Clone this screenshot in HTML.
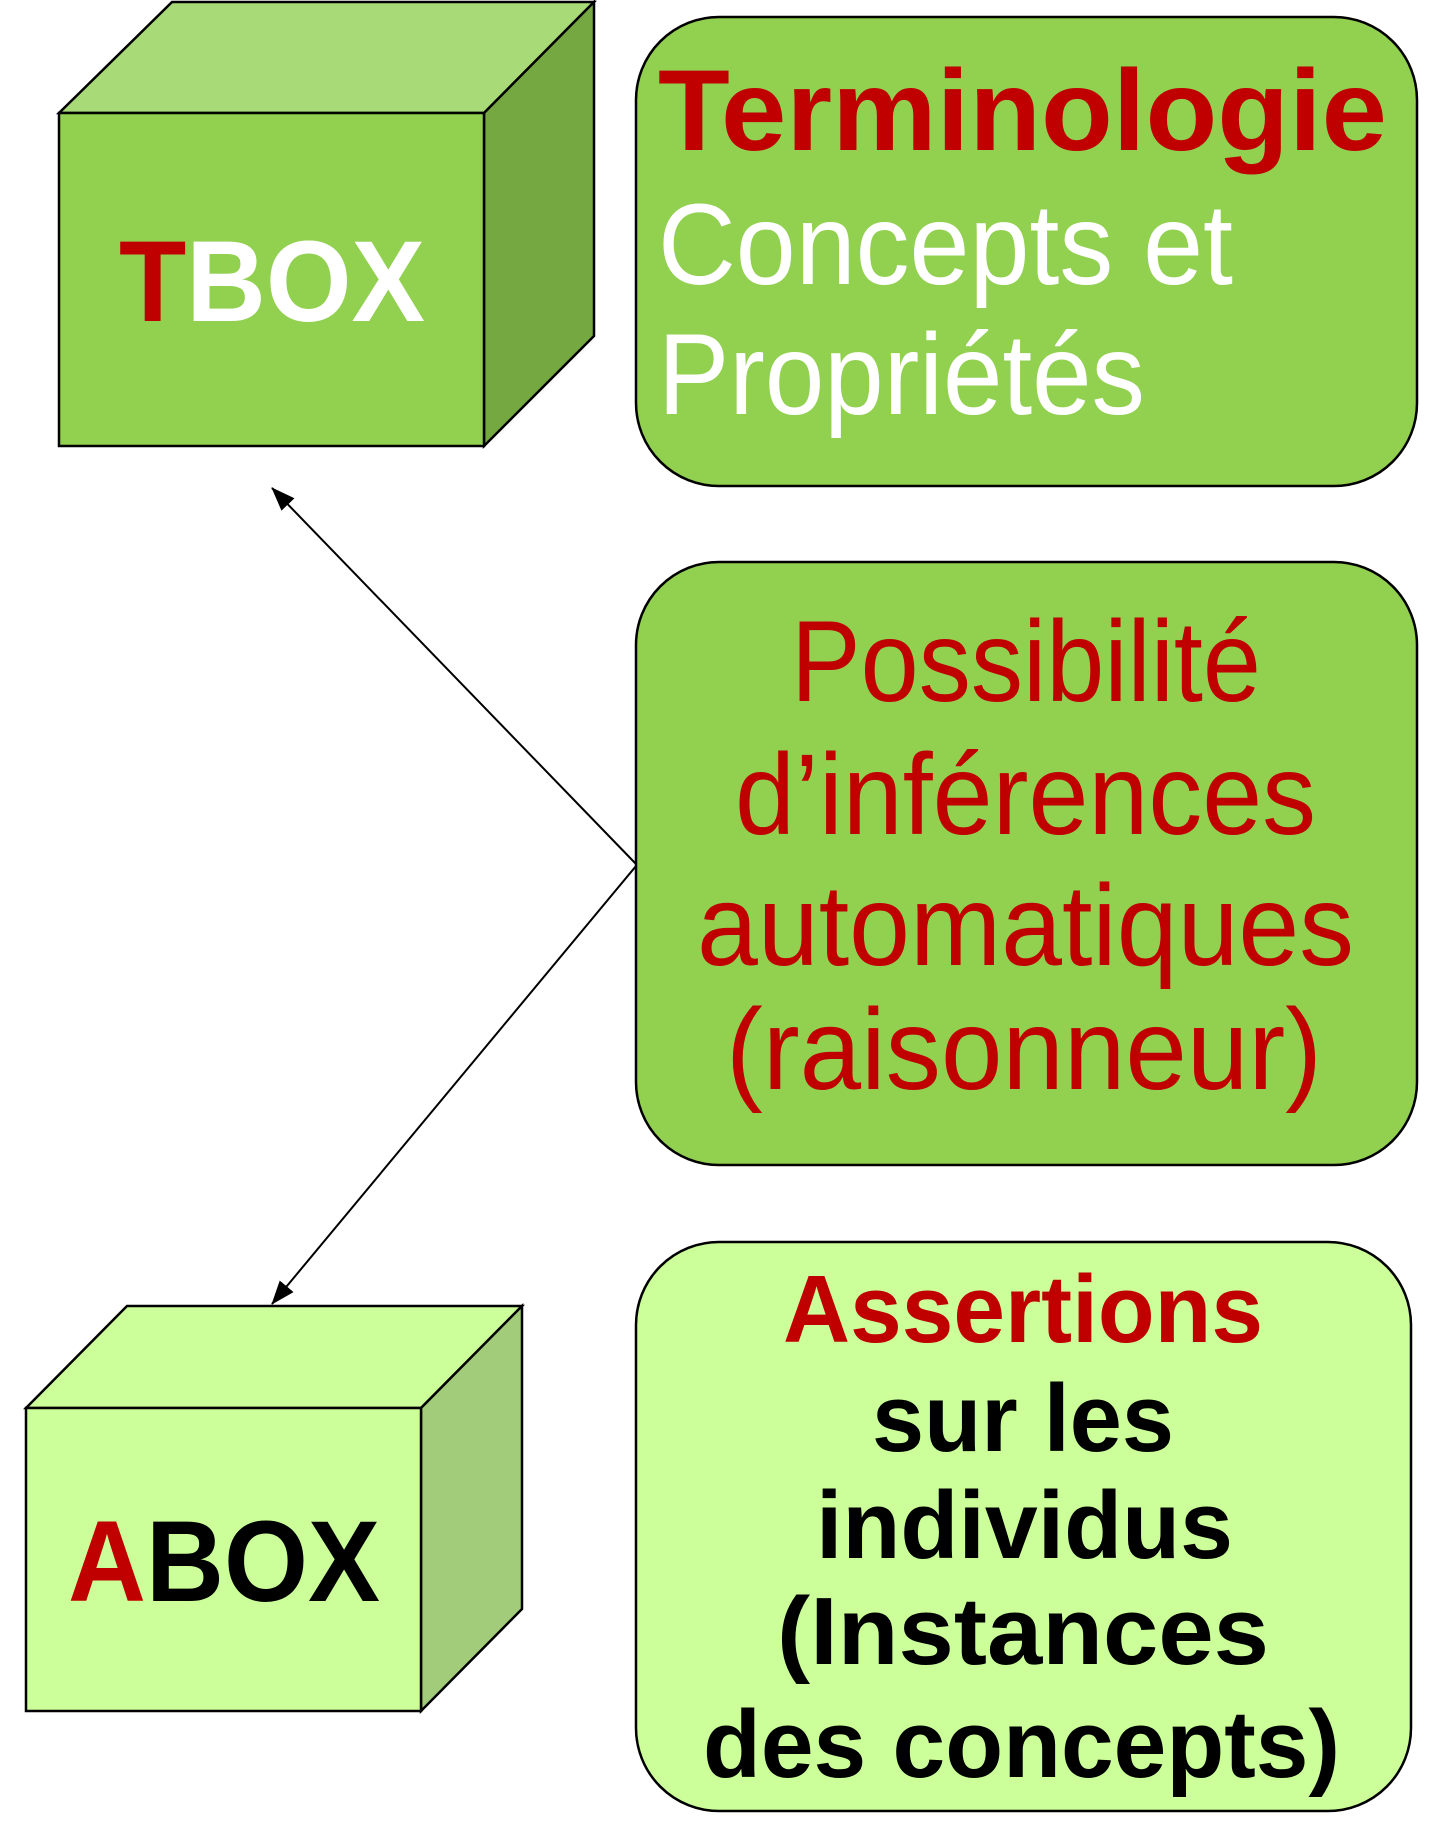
<!DOCTYPE html>
<html><head><meta charset="utf-8"><style>html,body{margin:0;padding:0;background:#fff}svg{display:block}</style></head>
<body>
<svg width="1447" height="1847" viewBox="0 0 1447 1847" xmlns="http://www.w3.org/2000/svg" font-family="'Liberation Sans','DejaVu Sans',sans-serif">
<defs><marker id="ah" markerWidth="24" markerHeight="18" refX="23" refY="9" orient="auto" markerUnits="userSpaceOnUse"><path d="M0,0 L24,9 L0,18 z" fill="#000"/></marker></defs>
<!-- TBOX -->
<polygon points="59,113 172,2 594,2 484,113" fill="#A9DA78" stroke="#000" stroke-width="2.5"/>
<polygon points="484,113 594,2 594,336 484,446" fill="#76A842" stroke="#000" stroke-width="2.5"/>
<rect x="59" y="113" width="425" height="333" fill="#92D050" stroke="#000" stroke-width="2.5"/>
<text x="119" y="321" font-size="115" font-weight="bold" textLength="306" lengthAdjust="spacingAndGlyphs"><tspan fill="#C00000">T</tspan><tspan fill="#fff">BOX</tspan></text>
<!-- ABOX -->
<polygon points="26,1408 127,1306 522,1306 421,1408" fill="#CCFF99" stroke="#000" stroke-width="2.5"/>
<polygon points="421,1408 522,1306 522,1609 421,1711" fill="#A3CC7A" stroke="#000" stroke-width="2.5"/>
<rect x="26" y="1408" width="395" height="303" fill="#CCFF99" stroke="#000" stroke-width="2.5"/>
<text x="68" y="1601" font-size="115" font-weight="bold" textLength="312" lengthAdjust="spacingAndGlyphs"><tspan fill="#C00000">A</tspan><tspan fill="#000">BOX</tspan></text>
<!-- arrows -->
<line x1="636" y1="864" x2="272" y2="488" stroke="#000" stroke-width="2" marker-end="url(#ah)"/>
<line x1="636" y1="866" x2="272" y2="1304" stroke="#000" stroke-width="2" marker-end="url(#ah)"/>
<!-- boxes -->
<rect x="636" y="17" width="781" height="469" rx="83" fill="#92D050" stroke="#000" stroke-width="2.5"/>
<rect x="636" y="562" width="781" height="603" rx="83" fill="#92D050" stroke="#000" stroke-width="2.5"/>
<rect x="636" y="1242" width="775" height="569" rx="83" fill="#CCFF99" stroke="#000" stroke-width="2.5"/>
<text x="658" y="150" font-size="115" font-weight="bold" fill="#C00000" textLength="729" lengthAdjust="spacingAndGlyphs">Terminologie</text>
<text x="658" y="284" font-size="115" fill="#fff" textLength="575" lengthAdjust="spacingAndGlyphs">Concepts et</text>
<text x="658" y="414" font-size="115" fill="#fff" textLength="487" lengthAdjust="spacingAndGlyphs">Propriétés</text>
<g fill="#C00000" font-size="115">
<text x="791" y="701" textLength="470" lengthAdjust="spacingAndGlyphs">Possibilité</text>
<text x="735" y="834" textLength="581" lengthAdjust="spacingAndGlyphs">d’inférences</text>
<text x="697" y="965" textLength="657" lengthAdjust="spacingAndGlyphs">automatiques</text>
<text x="726" y="1089" textLength="596" lengthAdjust="spacingAndGlyphs">(raisonneur)</text>
</g>
<g font-size="96" font-weight="bold">
<text x="783" y="1342" fill="#C00000" textLength="480" lengthAdjust="spacingAndGlyphs">Assertions</text>
<text x="872" y="1451" textLength="302" lengthAdjust="spacingAndGlyphs">sur les</text>
<text x="816" y="1558" textLength="417" lengthAdjust="spacingAndGlyphs">individus</text>
<text x="777" y="1664" textLength="492" lengthAdjust="spacingAndGlyphs">(Instances</text>
<text x="703" y="1777" textLength="637" lengthAdjust="spacingAndGlyphs">des concepts)</text>
</g>
</svg>
</body></html>
